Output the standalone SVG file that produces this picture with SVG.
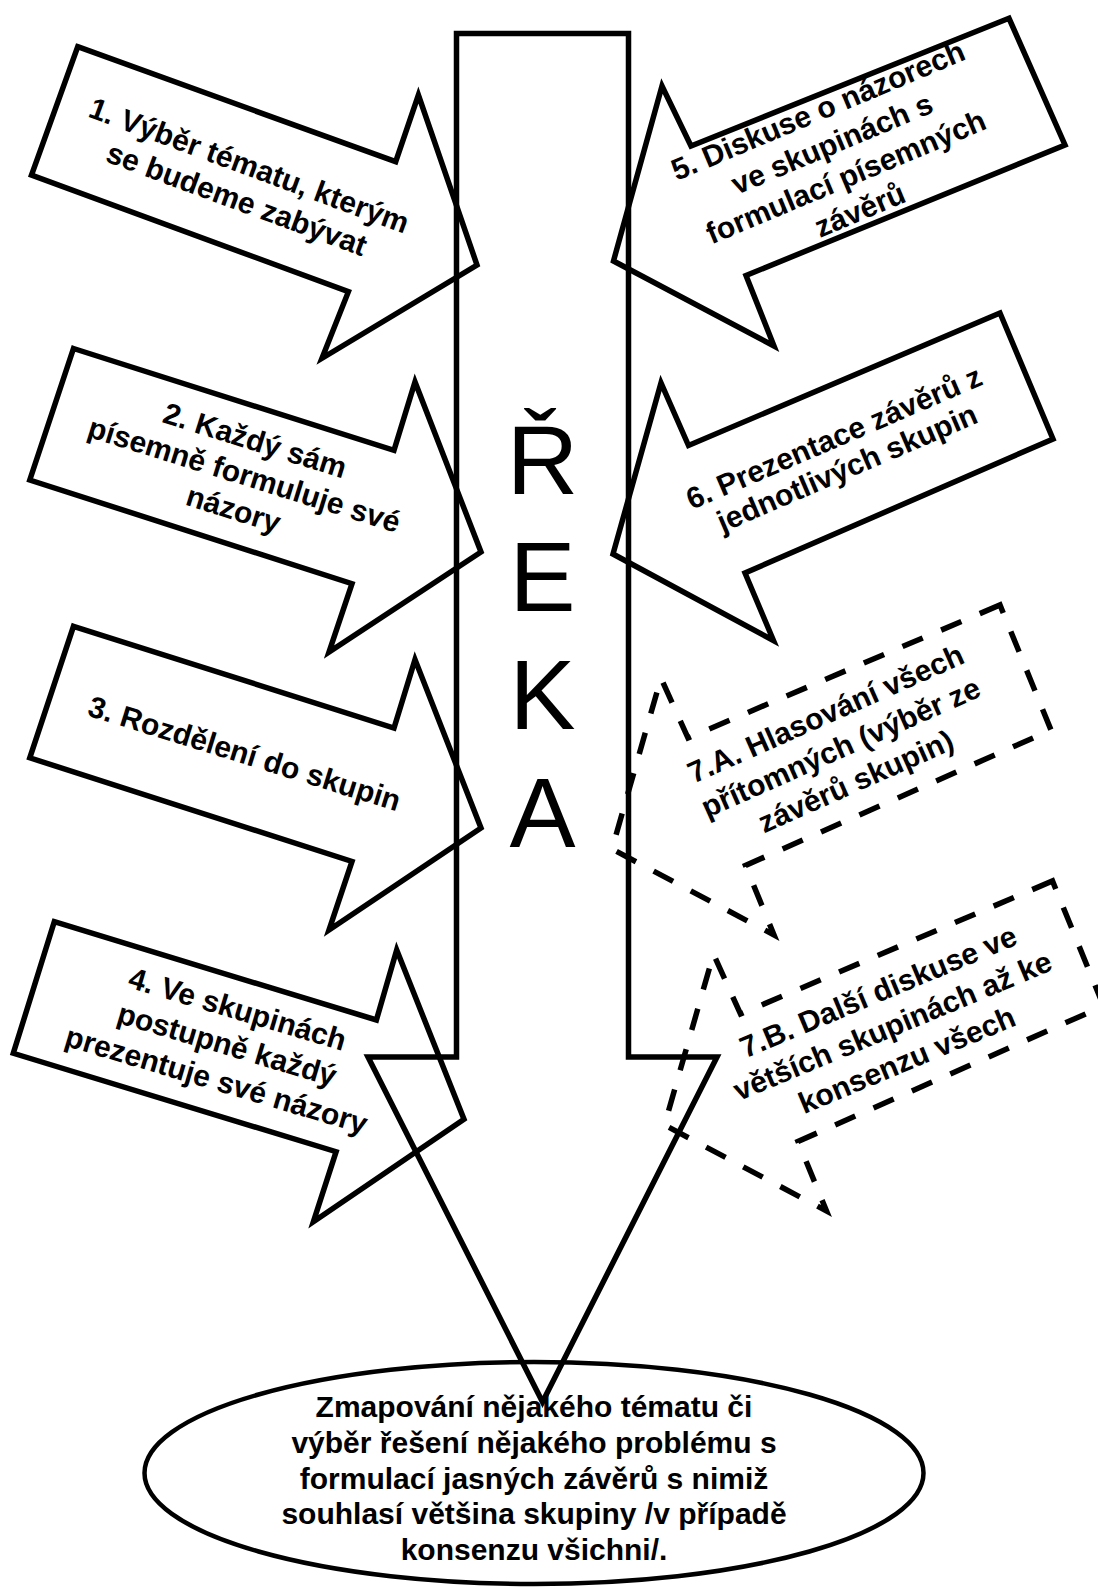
<svg xmlns="http://www.w3.org/2000/svg" width="1098" height="1589" viewBox="0 0 1098 1589">
<style>
.sh{fill:none;stroke:#000;stroke-width:5.5;stroke-linejoin:miter;stroke-miterlimit:20}
.ds{fill:none;stroke:#000;stroke-width:5.5;stroke-dasharray:22 20;stroke-linejoin:miter;stroke-miterlimit:20}
.lb{font-family:"Liberation Sans",Arial,sans-serif;font-weight:bold;font-size:30px;text-anchor:middle;fill:#000}
.big{font-family:"Liberation Sans",Arial,sans-serif;font-size:99px;text-anchor:middle;fill:#000}
</style>
<rect width="1098" height="1589" fill="#fff"/>
<g id="connectors">
<polygon id="river" class="sh" points="456.5,33.5 628.5,33.5 628.5,1057 717,1057 542.5,1402 368,1057 456.5,1057"/>
</g>
<g id="river-label">
<text class="big" x="542.5" y="494">Ř</text>
<text class="big" x="542.5" y="611">E</text>
<text class="big" x="542.5" y="728.5">K</text>
<text class="big" x="542.5" y="846.5">A</text>
</g>
<g id="step1">
<polygon class="sh" points="77.7,46.7 395.7,161.7 418.4,95 477,265 322,358.3 348.4,291.7 31.5,175"/>
<g transform="translate(239.4,191.9) rotate(20.3)">
<text class="lb" x="0" y="-18">1. Výběr tématu, kterým</text>
<text class="lb" x="0" y="18">se budeme zabývat</text>
</g>
</g>
<g id="step2">
<polygon class="sh" points="73.5,348.5 394,450.4 415,381.9 481,552 329,652 352,583.7 29.8,480"/>
<g transform="translate(241.2,484.6) rotate(17.3)">
<text class="lb" x="0" y="-36">2. Každý sám</text>
<text class="lb" x="0" y="0">písemně formuluje své</text>
<text class="lb" x="0" y="36">názory</text>
</g>
</g>
<g id="step3">
<polygon class="sh" points="73.5,626.3 394,728 415,659.6 481,828 329,930 352,861.5 29.8,757.8"/>
<g transform="translate(241.6,763.3) rotate(17.2)">
<text class="lb" x="0" y="0">3. Rozdělení do skupin</text>
</g>
</g>
<g id="step4">
<polygon class="sh" points="54.3,921.7 376.4,1020 396.7,950 464,1119.3 313.4,1221.7 336.1,1151.7 13.3,1053.3"/>
<g transform="translate(224.1,1054.4) rotate(16.5)">
<text class="lb" x="0" y="-37">4. Ve skupinách</text>
<text class="lb" x="0" y="0">postupně každý</text>
<text class="lb" x="0" y="37">prezentuje své názory</text>
</g>
</g>
<g id="step5">
<polygon class="sh" points="1009,18.3 691,146 662,86 613.5,261 774,346 746,275.5 1065,145"/>
<g transform="translate(842.9,169.8) rotate(-22.8)">
<text class="lb" x="0" y="-54">5. Diskuse o názorech</text>
<text class="lb" x="0" y="-18">ve skupinách s</text>
<text class="lb" x="0" y="18">formulací písemných</text>
<text class="lb" x="0" y="54">závěrů</text>
</g>
</g>
<g id="step6">
<polygon class="sh" points="1000,313 688.5,445.5 661,383 613,554 773.5,640.5 745,573 1053,439"/>
<g transform="translate(844.5,462.2) rotate(-23.3)">
<text class="lb" x="0" y="-16.5">6. Prezentace závěrů z</text>
<text class="lb" x="0" y="16.5">jednotlivých skupin</text>
</g>
</g>
<g id="step7a">
<polygon class="ds" points="1000,605 688,738 661,678 612,849 774,935 745.5,865.5 1051,730"/>
<g transform="translate(844.9,756.9) rotate(-24)">
<text class="lb" x="0" y="-37">7.A. Hlasování všech</text>
<text class="lb" x="0" y="0">přítomných (výběr ze</text>
<text class="lb" x="0" y="37">závěrů skupin)</text>
</g>
</g>
<g id="step7b">
<polygon class="ds" points="1052.5,881 740.5,1014 713.5,954 664.5,1125 826.5,1211 798,1141.5 1103.5,1006"/>
<g transform="translate(896.5,1035.3) rotate(-22.7)">
<text class="lb" x="0" y="-37">7.B. Další diskuse ve</text>
<text class="lb" x="0" y="0">větších skupinách až ke</text>
<text class="lb" x="0" y="37">konsenzu všech</text>
</g>
</g>
<g id="goal">
<ellipse cx="534" cy="1473" rx="389.5" ry="111" fill="none" stroke="#000" stroke-width="4.5"/>
<text class="lb" x="534" y="1417">Zmapování nějakého tématu či</text>
<text class="lb" x="534" y="1453">výběr řešení nějakého problému s</text>
<text class="lb" x="534" y="1488.5">formulací jasných závěrů s nimiž</text>
<text class="lb" x="534" y="1524">souhlasí většina skupiny /v případě</text>
<text class="lb" x="534" y="1560">konsenzu všichni/.</text>
</g>
</svg>
